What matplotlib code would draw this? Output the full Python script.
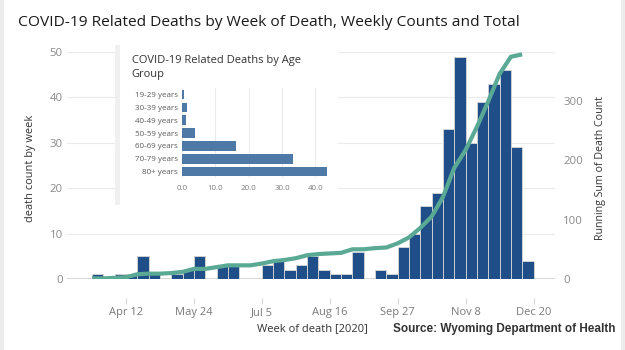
import matplotlib
matplotlib.use("Agg")
import matplotlib.pyplot as plt
import matplotlib.dates as mdates
from matplotlib.patches import Rectangle
import numpy as np
import pandas as pd

# ---------------- data ----------------
week_start = pd.date_range("2020-03-22", periods=39, freq="7D")
weekly_deaths = [1, 0, 1, 1, 5, 1, 0, 1, 2, 5,
                 0, 3, 3, 0, 0, 3, 4, 2, 3, 5,
                 2, 1, 1, 6, 0, 2, 1, 7, 10, 16,
                 19, 33, 49, 30, 39, 43, 46, 29, 4]
tick_dates = ["2020-04-12", "2020-05-24", "2020-07-05", "2020-08-16",
              "2020-09-27", "2020-11-08", "2020-12-20"]
tick_labels = ["Apr 12", "May 24", "Jul 5", "Aug 16", "Sep 27", "Nov 8", "Dec 20"]

age_groups = ["19-29 years", "30-39 years", "40-49 years", "50-59 years",
              "60-69 years", "70-79 years", "80+ years"]
age_pct = [0.5, 1.6, 1.1, 4.0, 16.1, 33.2, 43.5]
age_ticks = [0, 10, 20, 30, 40]
age_tick_labels = ["0.0", "10.0", "20.0", "30.0", "40.0"]

# ---------------- style ----------------
FONT = "Open Sans"
W, H = 625, 350
BAR_COLOR = "#1f4e89"
LINE_COLOR = "#5aa994"
INSET_COLOR = "#4e79a7"
TICK_COLOR = "#8a8a8a"
GRID_COLOR = "#ebebeb"

fig = plt.figure(figsize=(W / 100, H / 100), dpi=100)
fig.patch.set_facecolor("white")
renderer = fig.canvas.get_renderer()


def fx(px):
    return px / W


def fy(py):
    return 1 - py / H


def fit(text, target, weight="normal", family=FONT, base=10.0):
    t = fig.text(0, 0, text, fontsize=base, family=family, weight=weight)
    w = t.get_window_extent(renderer).width
    t.remove()
    return base * target / w


# ---------------- main axes ----------------
x = mdates.date2num(week_start.to_pydatetime())
running = np.cumsum(weekly_deaths)

ax = fig.add_axes([fx(67), fy(279), fx(555) - fx(67), fy(52) - fy(279)])
for s in ax.spines.values():
    s.set_visible(False)
ax.spines["bottom"].set_position(("outward", 14))

ax.bar(x, weekly_deaths, width=7, align="edge", color=BAR_COLOR,
       edgecolor="#d9d9d9", linewidth=0.6, zorder=2)
ax.set_ylim(0, 50)
ax.set_yticks([0, 10, 20, 30, 40, 50])
ax.yaxis.grid(True, color=GRID_COLOR, linewidth=0.8, zorder=0)
ax.set_axisbelow(True)
ax.axhline(0, color="#cfcfcf", linewidth=1.2, zorder=1)

xt = mdates.date2num(pd.to_datetime(tick_dates).to_pydatetime())
ax.set_xticks(xt)
tick_fs = fit("Apr 12", 34)
ax.set_xticklabels(tick_labels, fontsize=tick_fs, color="#7a7a7a", family=FONT)
ax.tick_params(axis="x", length=4, color="#d8d8d8", pad=2)
ax.set_xlim(mdates.date2num(pd.Timestamp("2020-03-06 12:00")),
            mdates.date2num(pd.Timestamp("2021-01-02 07:00")))

ax.tick_params(axis="y", length=0, labelsize=8.2, labelcolor=TICK_COLOR, pad=3)
for lab in ax.get_yticklabels():
    lab.set_family(FONT)

ax2 = ax.twinx()
for s in ax2.spines.values():
    s.set_visible(False)
ax2.plot(x, running, color=LINE_COLOR, linewidth=3, zorder=3,
         solid_capstyle="butt", solid_joinstyle="round")
ax2.set_ylim(0, 382)
ax2.set_yticks([0, 100, 200, 300])
ax2.tick_params(axis="y", length=0, labelsize=8.2, labelcolor=TICK_COLOR, pad=6)
for lab in ax2.get_yticklabels():
    lab.set_family(FONT)

# axis titles
fig.text(fx(30), fy(168), "death count by week", rotation=90, ha="center",
         va="center", color="#333333", family=FONT,
         fontsize=fit("death count by week", 106))
fig.text(fx(600), fy(167.5), "Running Sum of Death Count", rotation=90,
         ha="center", va="center", color="#333333", family=FONT,
         fontsize=fit("Running Sum of Death Count", 145))

# title and footer
title = "COVID-19 Related Deaths by Week of Death, Weekly Counts and Total"
fig.text(fx(18), fy(22), title, ha="left", va="center", color="#1a1a1a",
         family=FONT, fontsize=fit(title, 499))
fig.text(fx(257), fy(329), "Week of death [2020]", ha="left", va="center",
         color="#333333", family=FONT, fontsize=fit("Week of death [2020]", 110))
src = "Source: Wyoming Department of Health"
fig.text(fx(392.6), fy(329), src, ha="left", va="center", color="#333333",
         family="Liberation Sans", weight="bold",
         fontsize=fit(src, 221, weight="bold", family="Liberation Sans"))

# ---------------- inset panel ----------------
fig.patches.append(Rectangle((fx(120), fy(205)), fx(338) - fx(120),
                             fy(45) - fy(205), transform=fig.transFigure,
                             facecolor="white", edgecolor="none", zorder=1))
fig.patches.append(Rectangle((fx(115), fy(205)), fx(5), fy(45) - fy(205),
                             transform=fig.transFigure, facecolor="#f0f0f0",
                             edgecolor="none", zorder=1))

ins_title1 = "COVID-19 Related Deaths by Age"
ins_fs = fit(ins_title1, 169)
fig.text(fx(131.7), fy(60), ins_title1, ha="left", va="center",
         color="#333333", family=FONT, fontsize=ins_fs, zorder=3)
fig.text(fx(131.7), fy(75), "Group", ha="left", va="center",
         color="#333333", family=FONT, fontsize=ins_fs, zorder=3)

ax3 = fig.add_axes([fx(182), fy(178.2), 150 / W, 90.3 / H])
ax3.set_zorder(3)
ax3.patch.set_alpha(0)
ypos = np.arange(len(age_groups))
ax3.barh(ypos, age_pct, height=0.73, color=INSET_COLOR, zorder=2)
ax3.set_ylim(len(age_groups) - 0.5, -0.5)
ax3.set_xlim(0, 45)
ax3.set_yticks(ypos)
ax3.set_yticklabels(age_groups, family=FONT, color="#5a5a5a",
                    fontsize=fit("19-29 years", 42.7))
ax3.set_xticks(age_ticks)
ax3.set_xticklabels(age_tick_labels, family=FONT, color="#7a7a7a",
                    fontsize=fit("10.0", 15.7))
ax3.xaxis.grid(True, color=GRID_COLOR, linewidth=0.8, zorder=0)
ax3.set_axisbelow(True)
ax3.tick_params(axis="both", length=0)
ax3.tick_params(axis="y", pad=3)
ax3.tick_params(axis="x", pad=5)
for s in ax3.spines.values():
    s.set_visible(False)

# page border strips
fig.patches.append(Rectangle((0, 0), fx(4), 1, transform=fig.transFigure,
                             facecolor="#ececec", edgecolor="none", zorder=0))
fig.patches.append(Rectangle((fx(621), 0), fx(4), 1, transform=fig.transFigure,
                             facecolor="#ececec", edgecolor="none", zorder=0))

fig.savefig("out.png", dpi=100)
